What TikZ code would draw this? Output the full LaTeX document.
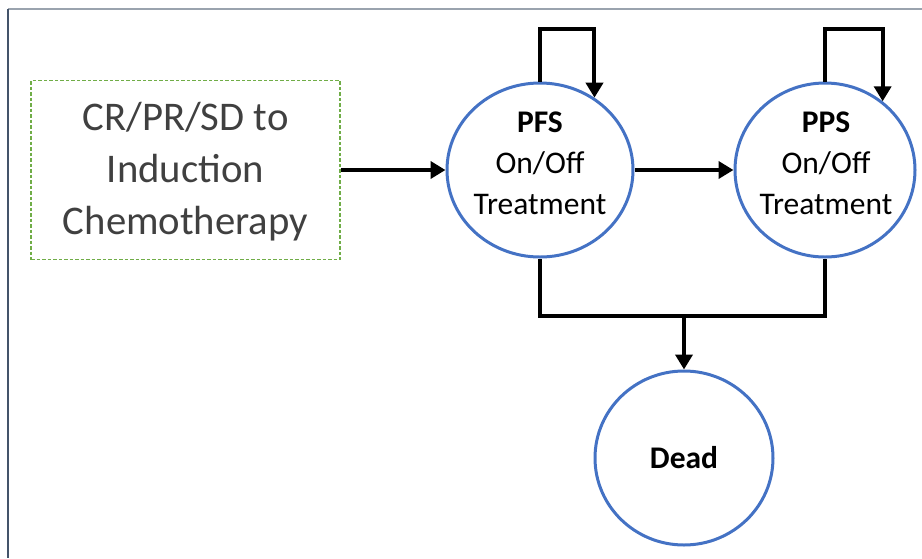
\documentclass[tikz,border=0pt]{standalone}
\usepackage{fontspec}
\setmainfont{Carlito}
\usetikzlibrary{arrows.meta,shapes.geometric,calc}
\definecolor{cblue}{HTML}{4472C4}
\definecolor{cgreen}{HTML}{70AD47}
\definecolor{cgray}{HTML}{404040}
\definecolor{frametop}{HTML}{9AA3AE}
\definecolor{frameleft}{HTML}{44546A}
\begin{document}
\begin{tikzpicture}[x=1pt,y=-1pt,
  state/.style={ellipse,draw=cblue,line width=3pt,minimum width=186pt,minimum height=174pt,inner sep=0pt},
  statetext/.style={align=center,font=\fontsize{31.5}{41}\selectfont,text=black,inner sep=0pt},
  startbox/.style={rectangle,draw=cgreen,line width=1.3pt,dash pattern=on 3.5pt off 2pt,minimum width=309pt,minimum height=179pt,inner sep=0pt},
  starttext/.style={align=center,font=\fontsize{40.7}{52}\selectfont,text=cgray,inner sep=0pt},
  conn/.style={line width=4pt,draw=black},
  arr/.style={conn,-{Triangle[length=15pt,width=17pt]}}]
\useasboundingbox (0,0) rectangle (922,558);
\draw[frametop,line width=2pt] (8,9) -- (922,9);
\draw[frameleft,line width=1.2pt] (8,9) -- (8,558);
\node[startbox] (start) at (185.5,170) {};
\node[starttext] (starttxt) at (185.5,172) {CR/PR/SD to\\Induction\\Chemotherapy};
\node[state] (pfs) at (540,170) {};
\node[statetext] (pfstxt) at (540,163) {\textbf{PFS}\\On/Off\\Treatment};
\node[state,minimum width=180pt] (pps) at (825,170) {};
\node[statetext] (ppstxt) at (826,163) {\textbf{PPS}\\On/Off\\Treatment};
\node[state,minimum width=178pt] (dead) at (684,458) {};
\node[statetext] (deadtxt) at (684,458) {\textbf{Dead}};
\draw[arr] (start.east) -- (pfs.west);
\draw[arr] (pfs.east) -- (pps.west);
\draw[arr] (pfs.north) -- ++(0,-53) -| (pfs.53.5);
\draw[arr] (pps.north) -- ++(0,-53) -| (pps.50.6);
\coordinate (j) at (684,316);
\draw[conn] (pfs.south) |- (j) -| (pps.south);
\draw[arr] (j) -- (dead.north);
\end{tikzpicture}
\end{document}
